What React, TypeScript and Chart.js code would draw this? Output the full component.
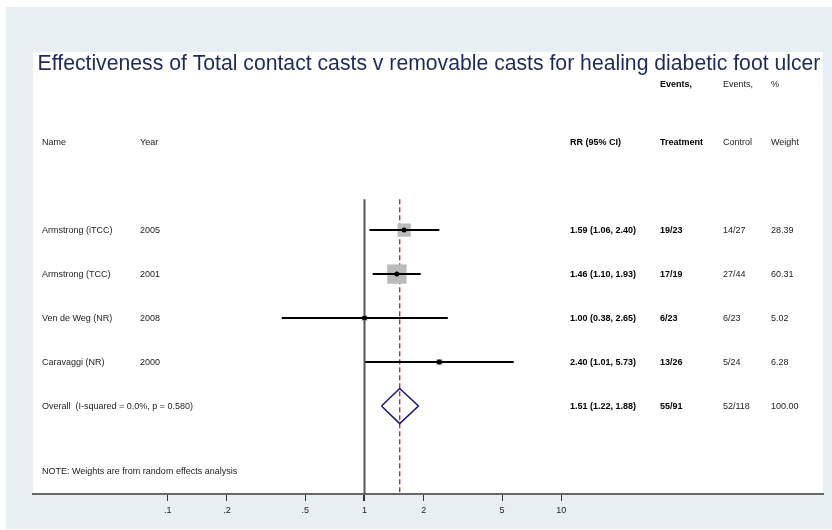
import React, { useEffect, useRef } from 'react';
import { Chart, registerables } from 'chart.js';

Chart.register(...registerables);

const chartTitle = 'Effectiveness of Total contact casts v removable casts for healing diabetic foot ulcer';
const studies = ['Armstrong (iTCC)', 'Armstrong (TCC)', 'Ven de Weg (NR)', 'Caravaggi (NR)'];
const years = ['2005', '2001', '2008', '2000'];
const rr = [1.59, 1.46, 1.0, 2.4];
const ciLow = [1.06, 1.1, 0.38, 1.01];
const ciHigh = [2.4, 1.93, 2.65, 5.73];
const treatmentEvents = ['19/23', '17/19', '6/23', '13/26'];
const controlEvents = ['14/27', '27/44', '6/23', '5/24'];
const weights = [28.39, 60.31, 5.02, 6.28];
const overallLabel = 'Overall  (I-squared = 0.0%, p = 0.580)';
const overallRR = [1.51];
const overallLow = [1.22];
const overallHigh = [1.88];
const overallTreatment = ['55/91'];
const overallControl = ['52/118'];
const overallWeight = [100.0];
const noteText = 'NOTE: Weights are from random effects analysis';
const xTicks = [0.1, 0.2, 0.5, 1, 2, 5, 10];
const xTickLabels = ['.1', '.2', '.5', '1', '2', '5', '10'];

const FONT = '"Liberation Sans", Arial, Helvetica, sans-serif';
const rows = studies.map((_, i) => i + 1);
const overallRow = studies.length + 1;

const fmt = (v: number) => v.toFixed(2);

export default function App() {
  const ref = useRef<HTMLCanvasElement | null>(null);

  useEffect(() => {
    if (!ref.current) return;

    const datasets: any[] = [];

    // reference lines (drawn underneath)
    datasets.push({
      data: [{ x: 1, y: 0.3 }, { x: 1, y: 7 }],
      showLine: true, borderColor: '#555555', borderWidth: 2, pointRadius: 0, order: 10,
    });
    datasets.push({
      data: [{ x: overallRR[0], y: 0.3 }, { x: overallRR[0], y: 7 }],
      showLine: true, borderColor: '#b81c28', borderWidth: 1.3, borderDash: [5, 3], pointRadius: 0, order: 9,
    });
    // weight squares
    datasets.push({
      data: rr.map((v, i) => ({ x: v, y: rows[i] })),
      showLine: false,
      pointStyle: 'rect',
      pointRadius: weights.map((w) => 1.76 * Math.sqrt(w)),
      backgroundColor: '#bbbbbb', borderColor: '#bbbbbb', borderWidth: 0, order: 8,
    });
    // CI lines
    rr.forEach((_, i) => {
      datasets.push({
        data: [{ x: ciLow[i], y: rows[i] }, { x: ciHigh[i], y: rows[i] }],
        showLine: true, borderColor: '#000000', borderWidth: 2, pointRadius: 0, order: 5,
      });
    });
    // point estimates
    datasets.push({
      data: rr.map((v, i) => ({ x: v, y: rows[i] })),
      showLine: false, pointStyle: 'circle', pointRadius: 2.5,
      backgroundColor: '#000000', borderColor: '#000000', borderWidth: 0, order: 2,
    });
    // overall diamond
    datasets.push({
      data: [
        { x: overallLow[0], y: overallRow },
        { x: overallRR[0], y: overallRow - 0.4 },
        { x: overallHigh[0], y: overallRow },
        { x: overallRR[0], y: overallRow + 0.4 },
        { x: overallLow[0], y: overallRow },
      ],
      showLine: true, borderColor: '#17177a', borderWidth: 1.5, pointRadius: 0, tension: 0, order: 1,
    });

    const bgPlugin = {
      id: 'bg',
      beforeDraw(chart: any) {
        const { ctx, chartArea: a, width, height } = chart;
        ctx.save();
        ctx.fillStyle = '#ffffff';
        ctx.fillRect(0, 0, width, height);
        ctx.fillStyle = '#e8eff2';
        ctx.fillRect(6, 7, width - 6, height - 8);
        ctx.fillStyle = '#ffffff';
        ctx.fillRect(a.left, a.top, a.right - a.left, a.bottom - a.top);
        ctx.restore();
      },
    };

    const textPlugin = {
      id: 'forestText',
      afterDatasetsDraw(chart: any) {
        const { ctx, chartArea: a } = chart;
        const ys = chart.scales.y;
        const colName = a.left + 9;
        const colYear = a.left + 107;
        const colRR = a.left + 537;
        const colTr = a.left + 627;
        const colCt = a.left + 690;
        const colW = a.left + 738;
        ctx.save();
        ctx.textBaseline = 'middle';
        ctx.textAlign = 'left';
        const put = (t: string, x: number, y: number, bold: boolean, color: string) => {
          ctx.font = `${bold ? 'bold ' : ''}9px ${FONT}`;
          ctx.fillStyle = color;
          ctx.fillText(t, x, y);
        };
        // title
        ctx.font = `21.2px ${FONT}`;
        ctx.fillStyle = '#1f2a5c';
        ctx.textAlign = 'center';
        ctx.textBaseline = 'alphabetic';
        ctx.fillText(chartTitle, (a.left + a.right) / 2 + 1, a.top + 18);
        ctx.textAlign = 'left';
        ctx.textBaseline = 'middle';

        const yEv = ys.getPixelForValue(-2.3);
        put('Events,', colTr, yEv, true, '#000');
        put('Events,', colCt, yEv, false, '#222');
        put('%', colW, yEv, false, '#222');

        const yH = ys.getPixelForValue(-1);
        put('Name', colName, yH, false, '#222');
        put('Year', colYear, yH, false, '#222');
        put('RR (95% CI)', colRR, yH, true, '#000');
        put('Treatment', colTr, yH, true, '#000');
        put('Control', colCt, yH, false, '#222');
        put('Weight', colW, yH, false, '#222');

        studies.forEach((s, i) => {
          const y = ys.getPixelForValue(rows[i]);
          put(s, colName, y, false, '#222');
          put(years[i], colYear, y, false, '#222');
          put(`${fmt(rr[i])} (${fmt(ciLow[i])}, ${fmt(ciHigh[i])})`, colRR, y, true, '#000');
          put(treatmentEvents[i], colTr, y, true, '#000');
          put(controlEvents[i], colCt, y, false, '#222');
          put(fmt(weights[i]), colW, y, false, '#222');
        });
        const yo = ys.getPixelForValue(overallRow);
        put(overallLabel, colName, yo, false, '#222');
        put(`${fmt(overallRR[0])} (${fmt(overallLow[0])}, ${fmt(overallHigh[0])})`, colRR, yo, true, '#000');
        put(overallTreatment[0], colTr, yo, true, '#000');
        put(overallControl[0], colCt, yo, false, '#222');
        put(fmt(overallWeight[0]), colW, yo, false, '#222');

        put(noteText, colName, ys.getPixelForValue(6.48), false, '#222');
        ctx.restore();
      },
    };

    const chart = new Chart(ref.current, {
      type: 'scatter',
      data: { datasets },
      options: {
        animation: false,
        responsive: false,
        events: [],
        layout: { autoPadding: false, padding: { left: 33, top: 52, right: 9, bottom: 0 } },
        plugins: { legend: { display: false }, tooltip: { enabled: false }, title: { display: false } },
        scales: {
          x: {
            type: 'logarithmic',
            min: 0.02068,
            max: 213.7,
            afterBuildTicks: (s: any) => {
              s.ticks = xTicks.map((v) => ({ value: v }));
            },
            afterFit: (s: any) => {
              s.height = 36;
              s.paddingLeft = 0;
              s.paddingRight = 0;
            },
            ticks: {
              autoSkip: false,
              maxRotation: 0,
              padding: 4,
              color: '#222',
              font: { size: 9, family: FONT },
              callback: (v: any) => {
                const k = xTicks.indexOf(Number(v));
                return k >= 0 ? xTickLabels[k] : '';
              },
            },
            grid: {
              drawOnChartArea: false,
              drawTicks: true,
              tickLength: 7,
              color: '#333',
              lineWidth: (c: any) => (c.tick && c.tick.value === 1 ? 2 : 1),
            },
            border: { display: true, color: '#666666', width: 2 },
          },
          y: {
            type: 'linear',
            reverse: true,
            min: -3.05,
            max: 7,
            display: false,
          },
        },
      },
      plugins: [bgPlugin, textPlugin],
    });

    return () => chart.destroy();
  }, []);

  return (
    <canvas
      ref={ref}
      width={832}
      height={530}
      style={{ position: 'absolute', left: 0, top: 0, width: 832, height: 530 }}
    />
  );
}
